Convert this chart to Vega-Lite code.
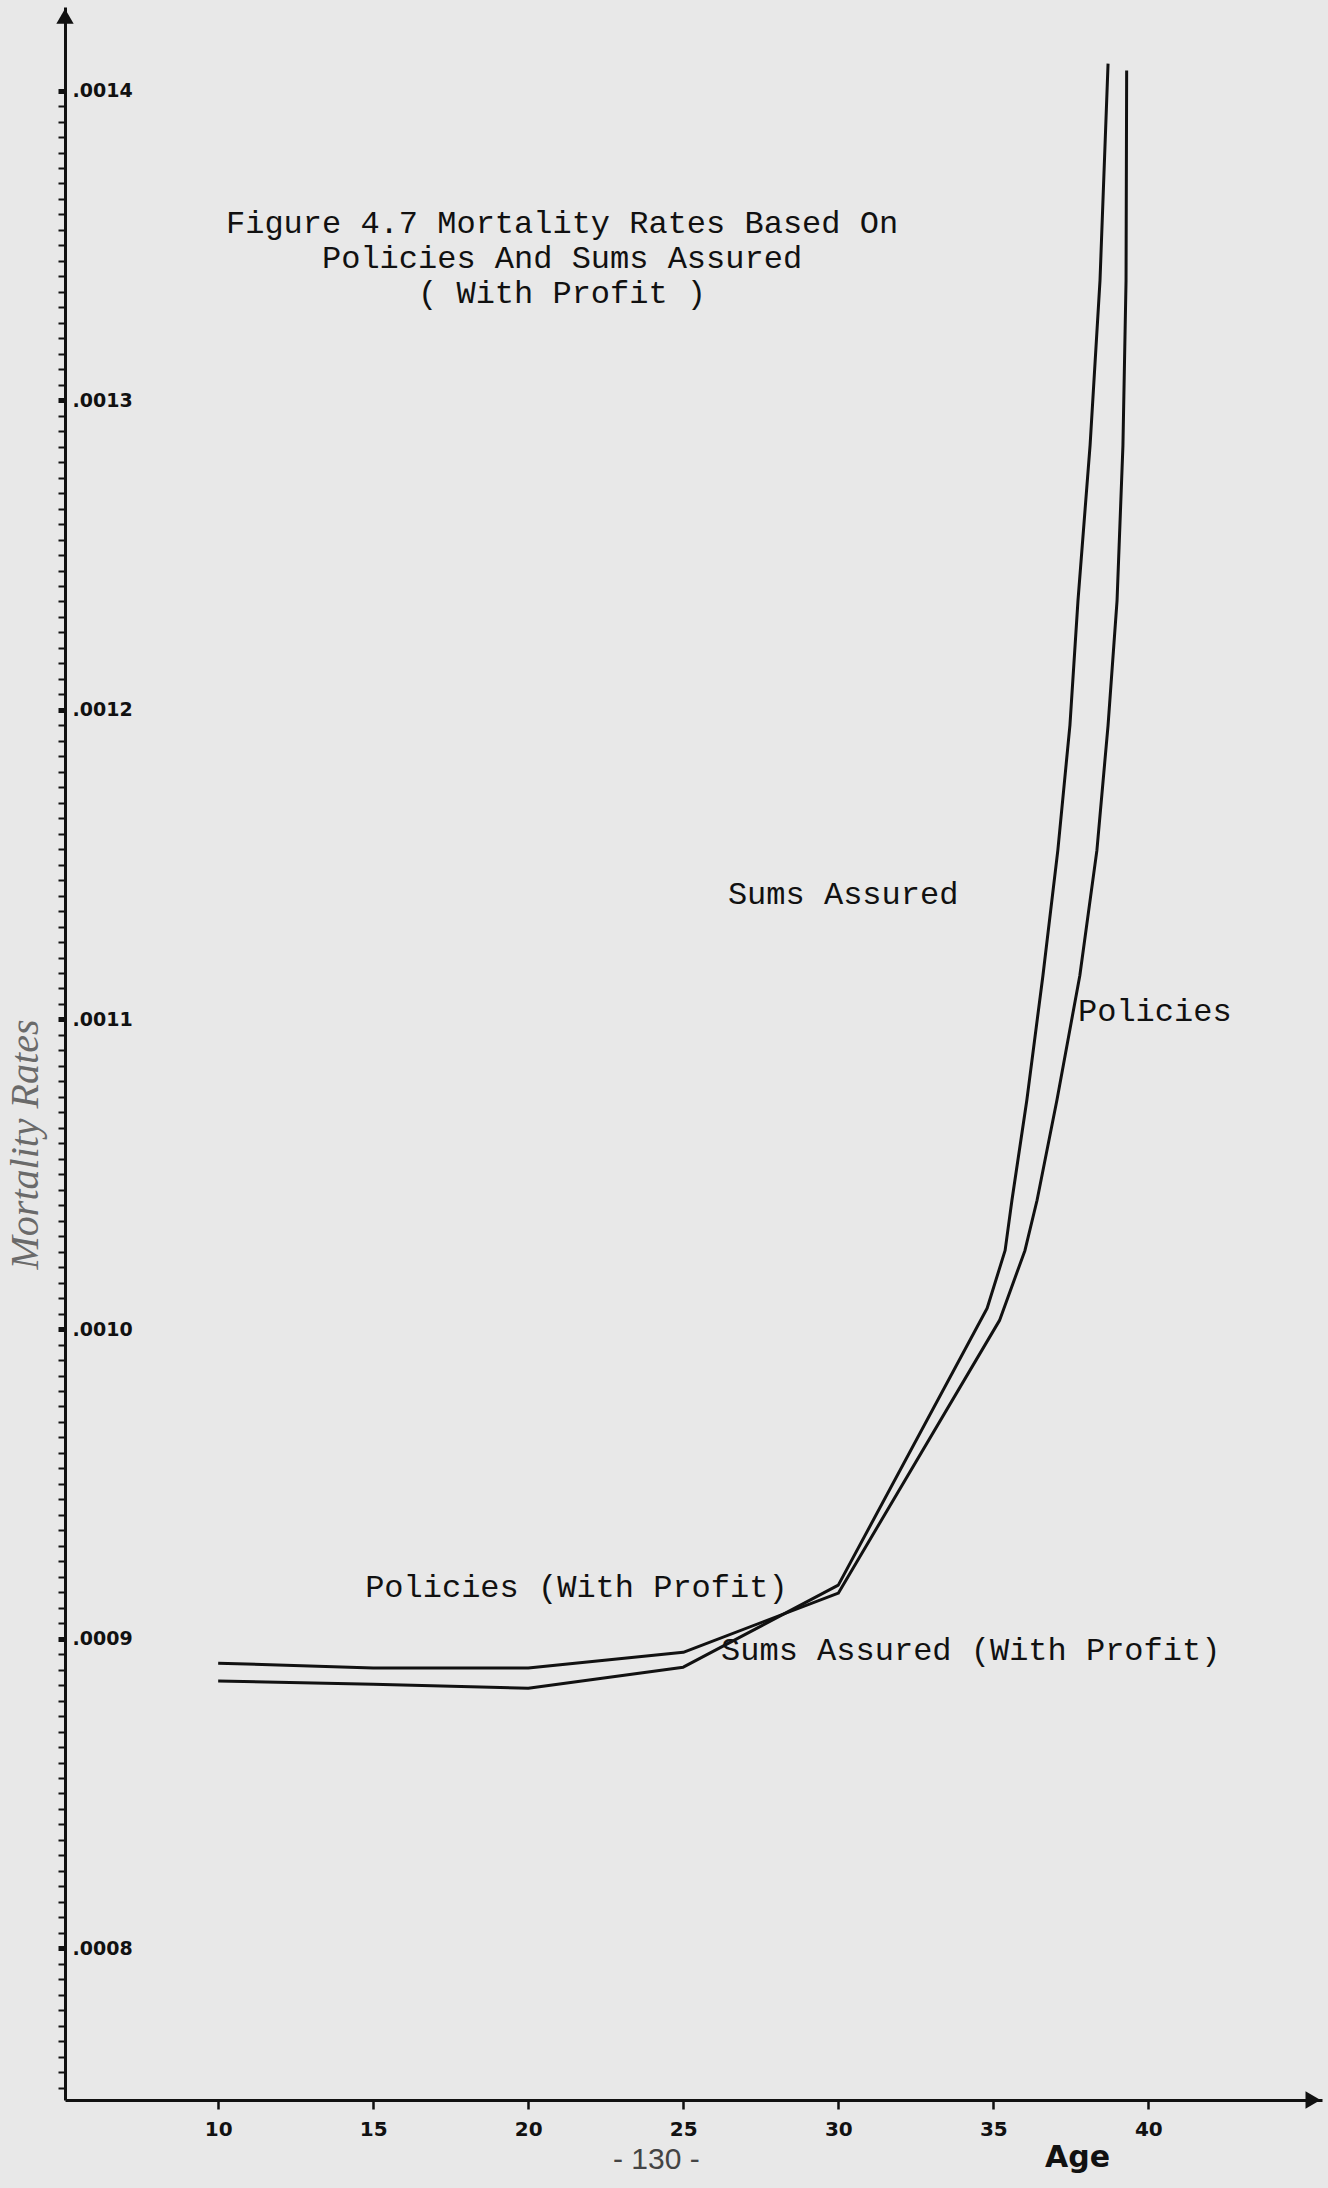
{
  "$schema": "https://vega.github.io/schema/vega-lite/v6.json",
  "width": 1257,
  "height": 2093,
  "autosize": {"type": "none"},
  "padding": {"left": 65, "top": 7, "right": 6, "bottom": 88},
  "background": "#e8e8e8",
  "config": {"view": {"stroke": null}},
  "datasets": {
    "curves": [
      {"series": "Policies", "age": 10, "rate": 0.0008921},
      {"series": "Policies", "age": 15, "rate": 0.0008905},
      {"series": "Policies", "age": 20, "rate": 0.0008905},
      {"series": "Policies", "age": 25, "rate": 0.0008956},
      {"series": "Policies", "age": 30, "rate": 0.0009147},
      {"series": "Policies", "age": 35.2, "rate": 0.0010028},
      {"series": "Policies", "age": 36.02, "rate": 0.0010254},
      {"series": "Policies", "age": 36.41, "rate": 0.0010416},
      {"series": "Policies", "age": 37.05, "rate": 0.0010739},
      {"series": "Policies", "age": 37.79, "rate": 0.0011142},
      {"series": "Policies", "age": 38.34, "rate": 0.0011546},
      {"series": "Policies", "age": 38.7, "rate": 0.001195},
      {"series": "Policies", "age": 38.99, "rate": 0.0012353},
      {"series": "Policies", "age": 39.18, "rate": 0.0012854},
      {"series": "Policies", "age": 39.28, "rate": 0.0013386},
      {"series": "Policies", "age": 39.3, "rate": 0.0014065},
      {"series": "Sums Assured", "age": 10, "rate": 0.0008863},
      {"series": "Sums Assured", "age": 15, "rate": 0.0008853},
      {"series": "Sums Assured", "age": 20, "rate": 0.000884},
      {"series": "Sums Assured", "age": 25, "rate": 0.0008908},
      {"series": "Sums Assured", "age": 30, "rate": 0.0009173},
      {"series": "Sums Assured", "age": 34.8, "rate": 0.0010067},
      {"series": "Sums Assured", "age": 35.38, "rate": 0.0010254},
      {"series": "Sums Assured", "age": 35.6, "rate": 0.0010416},
      {"series": "Sums Assured", "age": 36.08, "rate": 0.0010739},
      {"series": "Sums Assured", "age": 36.6, "rate": 0.0011142},
      {"series": "Sums Assured", "age": 37.08, "rate": 0.0011546},
      {"series": "Sums Assured", "age": 37.47, "rate": 0.001195},
      {"series": "Sums Assured", "age": 37.73, "rate": 0.0012353},
      {"series": "Sums Assured", "age": 38.12, "rate": 0.0012854},
      {"series": "Sums Assured", "age": 38.44, "rate": 0.0013386},
      {"series": "Sums Assured", "age": 38.7, "rate": 0.0014087}
    ],
    "labels": [
      {"label": "Sums Assured", "age": 26.44, "rate": 0.0011404},
      {"label": "Policies", "age": 37.73, "rate": 0.0011026},
      {"label": "Policies (With Profit)", "age": 14.74, "rate": 0.0009166},
      {"label": "Sums Assured (With Profit)", "age": 26.22, "rate": 0.0008963}
    ]
  },
  "layer": [
    {
      "data": {"name": "curves"},
      "mark": {"type": "line", "strokeWidth": 3, "strokeJoin": "round"},
      "encoding": {
        "x": {
          "field": "age",
          "type": "quantitative",
          "title": "Age",
          "scale": {"domain": [5.06, 45.6], "nice": false, "zero": false},
          "axis": {
            "values": [10, 15, 20, 25, 30, 35, 40],
            "tickCount": 50,
            "grid": false,
            "domainColor": "#111",
            "domainWidth": 3,
            "tickColor": "#111",
            "tickWidth": 2.5,
            "tickSize": 9,
            "labelFont": "DejaVu Sans",
            "labelFontWeight": "bold",
            "labelFontSize": 20,
            "labelColor": "#111",
            "labelPadding": 10,
            "titleFont": "DejaVu Sans",
            "titleFontWeight": "bold",
            "titleFontSize": 30,
            "titleColor": "#111",
            "titleX": 1012,
            "titleY": 57,
            "titleAlign": "center",
            "titleBaseline": "middle"
          }
        },
        "y": {
          "field": "rate",
          "type": "quantitative",
          "title": "Mortality Rates",
          "scale": {"domain": [0.000751, 0.001427], "nice": false, "zero": false},
          "axis": {
            "values": [0.000755, 0.00076, 0.000765, 0.00077, 0.000775, 0.00078, 0.000785, 0.00079, 0.000795, 0.0008,
              0.000805, 0.00081, 0.000815, 0.00082, 0.000825, 0.00083, 0.000835, 0.00084, 0.000845, 0.00085,
              0.000855, 0.00086, 0.000865, 0.00087, 0.000875, 0.00088, 0.000885, 0.00089, 0.000895, 0.0009,
              0.000905, 0.00091, 0.000915, 0.00092, 0.000925, 0.00093, 0.000935, 0.00094, 0.000945, 0.00095,
              0.000955, 0.00096, 0.000965, 0.00097, 0.000975, 0.00098, 0.000985, 0.00099, 0.000995, 0.001,
              0.001005, 0.00101, 0.001015, 0.00102, 0.001025, 0.00103, 0.001035, 0.00104, 0.001045, 0.00105,
              0.001055, 0.00106, 0.001065, 0.00107, 0.001075, 0.00108, 0.001085, 0.00109, 0.001095, 0.0011,
              0.001105, 0.00111, 0.001115, 0.00112, 0.001125, 0.00113, 0.001135, 0.00114, 0.001145, 0.00115,
              0.001155, 0.00116, 0.001165, 0.00117, 0.001175, 0.00118, 0.001185, 0.00119, 0.001195, 0.0012,
              0.001205, 0.00121, 0.001215, 0.00122, 0.001225, 0.00123, 0.001235, 0.00124, 0.001245, 0.00125,
              0.001255, 0.00126, 0.001265, 0.00127, 0.001275, 0.00128, 0.001285, 0.00129, 0.001295, 0.0013,
              0.001305, 0.00131, 0.001315, 0.00132, 0.001325, 0.00133, 0.001335, 0.00134, 0.001345, 0.00135,
              0.001355, 0.00136, 0.001365, 0.00137, 0.001375, 0.00138, 0.001385, 0.00139, 0.001395, 0.0014],
            "tickCount": 500,
            "labelExpr": "abs(datum.value*10000 - round(datum.value*10000)) < 0.001 ? replace(format(datum.value, '.4f'), '0.', '.') : ''",
            "labelOverlap": false,
            "labelFlush": false,
            "grid": false,
            "domainColor": "#111",
            "domainWidth": 3,
            "tickColor": "#111",
            "tickWidth": {"condition": {"test": "abs(datum.value*10000 - round(datum.value*10000)) < 0.001", "value": 5}, "value": 2},
            "tickSize": 7,
            "labelAlign": "left",
            "labelPadding": -14,
            "labelFont": "DejaVu Sans",
            "labelFontWeight": "bold",
            "labelFontSize": 19,
            "labelColor": "#111",
            "titleFont": "Liberation Serif",
            "titleFontStyle": "italic",
            "titleFontWeight": "normal",
            "titleFontSize": 40,
            "titleColor": "#6a6a6a",
            "titleX": -40,
            "titleY": 1137,
            "titleAngle": -90,
            "titleAlign": "center",
            "titleBaseline": "middle"
          }
        },
        "color": {"field": "series", "type": "nominal", "scale": {"domain": ["Policies", "Sums Assured"], "range": ["#111111", "#111111"]}, "legend": null}
      }
    },
    {
      "data": {"name": "labels"},
      "mark": {"type": "text", "font": "Liberation Mono", "fontSize": 32, "align": "left", "baseline": "middle", "color": "#111"},
      "encoding": {
        "x": {"field": "age", "type": "quantitative", "title": "Age"},
        "y": {"field": "rate", "type": "quantitative", "title": "Mortality Rates"},
        "text": {"field": "label"}
      }
    },
    {
      "data": {"values": [{}]},
      "mark": {"type": "text", "font": "Liberation Mono", "fontSize": 32, "align": "center", "baseline": "top", "lineHeight": 35, "color": "#111"},
      "encoding": {
        "x": {"datum": 21.09},
        "y": {"datum": 0.0013622},
        "text": {"value": ["Figure 4.7 Mortality Rates Based On", "Policies And Sums Assured", "( With Profit )"]}
      }
    },
    {
      "data": {"values": [{}]},
      "mark": {"type": "text", "font": "Liberation Sans", "fontSize": 30, "align": "center", "baseline": "middle", "color": "#444"},
      "encoding": {
        "x": {"datum": 24.13},
        "y": {"datum": 0.0007316},
        "text": {"value": "- 130 -"}
      }
    },
    {
      "data": {"values": [{}]},
      "mark": {"type": "point", "shape": "triangle-up", "size": 300, "filled": true, "color": "#111", "opacity": 1},
      "encoding": {
        "x": {"datum": 5.06},
        "y": {"datum": 0.001424}
      }
    },
    {
      "data": {"values": [{}]},
      "mark": {"type": "point", "shape": "triangle-right", "size": 300, "filled": true, "color": "#111", "opacity": 1},
      "encoding": {
        "x": {"datum": 45.31},
        "y": {"datum": 0.000751}
      }
    }
  ]
}
